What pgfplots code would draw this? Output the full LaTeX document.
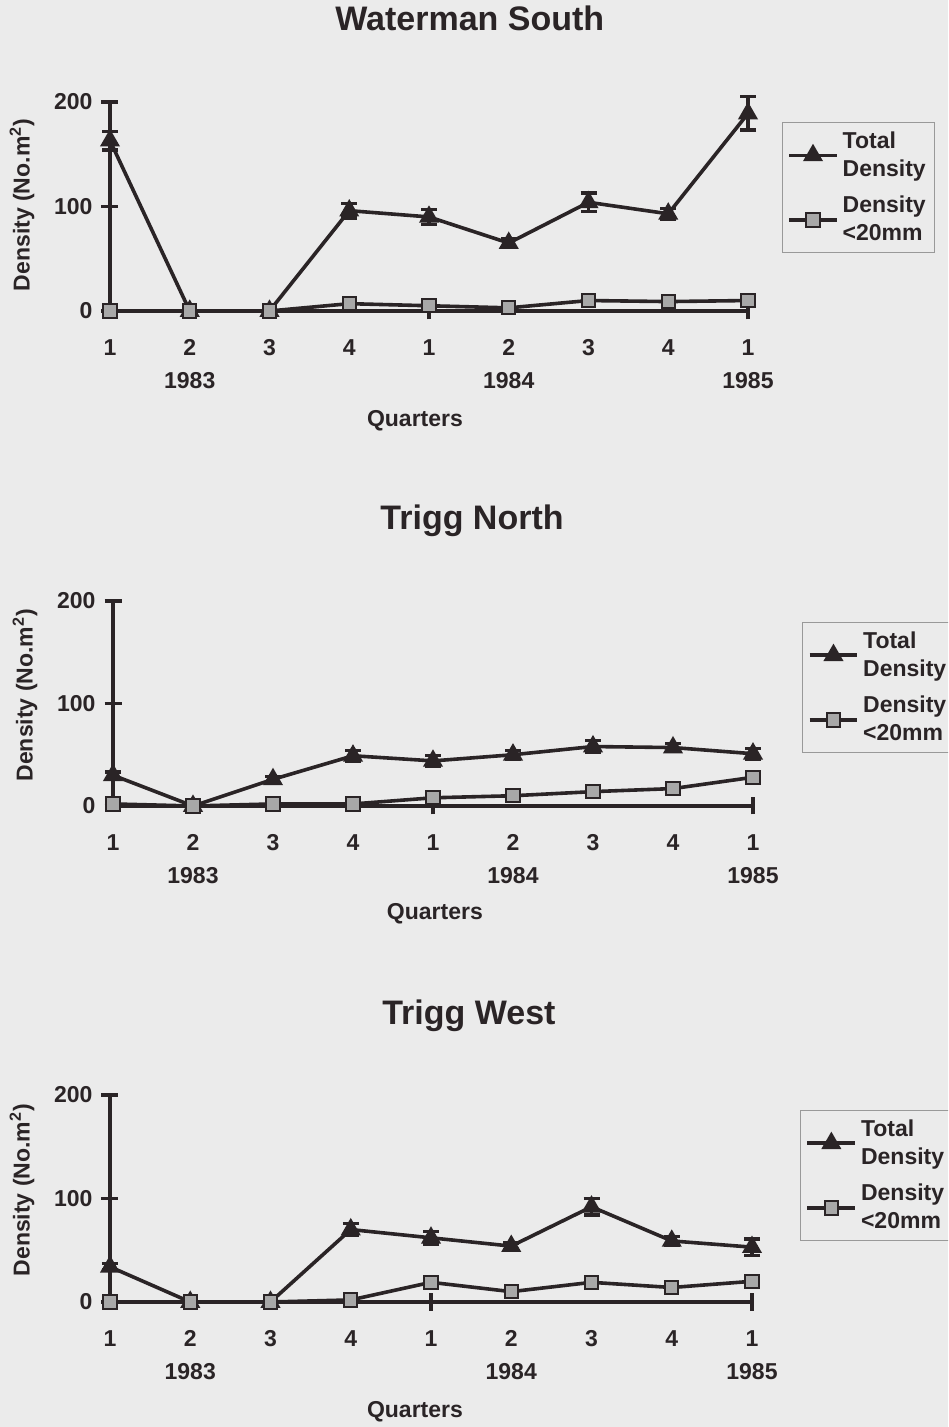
\documentclass[border=0pt]{standalone}
\usepackage{pgfplots}
\pgfplotsset{compat=1.18}
\usepackage{fontspec}
\setmainfont{Liberation Sans}
\definecolor{ink}{HTML}{2A2426}
\definecolor{bg}{HTML}{EBEBEB}
\definecolor{sq}{HTML}{A8A8A8}
\pgfplotsset{
 panel/.style={
  scale only axis, anchor=south west, clip=false,
  xmin=0,xmax=8,ymin=0,ymax=200,
  axis lines*=left,
  axis line style={line width=1.7pt,draw=ink},
  every tick/.style={line width=1.7pt,draw=ink},
  tick align=center, major tick length=8.5pt,
  ytick={0,100,200},
  xtick={0,...,8},
  xticklabels={1,{2\\1983},3,4,1,{2\\1984},3,4,{1\\1985}},
  major x tick style={draw=none},
  extra x ticks={4,8}, extra x tick labels={},
  extra x tick style={major x tick style={draw=ink}},
  /pgf/number format/assume math mode=true,
  tick label style={font=\bfseries\fontsize{11.5}{16.5}\selectfont, text=ink},
  xticklabel style={align=center, yshift=-6.5pt},
  yticklabel style={xshift=-1pt},
  label style={font=\bfseries\fontsize{11.5}{14}\selectfont, text=ink},
  ylabel={Density (No.m\textsuperscript{2})},
  xlabel={Quarters},
  every axis title shift=0pt,
  title style={font=\bfseries\fontsize{17}{20}\selectfont, text=ink, anchor=center},
  legend style={draw=gray!80, line width=0.5pt, fill=none, inner sep=2.5pt,
    font=\bfseries\fontsize{11.5}{14}\selectfont, text=ink,
    cells={anchor=west, align=left}, row sep=4.5pt, anchor=north west},
  legend image code/.code={\draw[mark repeat=2,mark phase=2,##1] plot coordinates {(0cm,0cm)(0.42cm,0cm)(0.84cm,0cm)};},
 },
 tot/.style={ink, line width=1.8pt, mark=triangle*, mark size=4.8pt,
   mark options={solid, fill=ink, line width=1pt},
   error bars/.cd, y dir=both, y explicit,
   error bar style={line width=1.7pt, ink},
   error mark options={rotate=90, mark size=4pt, line width=1.7pt, ink}},
 den/.style={ink, line width=1.8pt, mark=square*, mark size=3.3pt,
   mark options={solid, fill=sq, draw=ink, line width=1pt}},
}
\begin{document}
\begin{tikzpicture}
\useasboundingbox (0,0) rectangle (474pt,713.5pt);
\fill[bg] (0,0) rectangle (474pt,713.5pt);
\clip (0,0) rectangle (474pt,713.5pt);

% Waterman South
\begin{axis}[panel, at={(55pt,558pt)}, width=319pt, height=104.5pt,
  title={Waterman South}, title style={at={(0.564,1.402)}},
  xlabel style={at={(axis description cs:0.478,-0.526)}, anchor=center},
  ylabel style={at={(axis description cs:-0.138,0.507)}, anchor=center},
  legend style={at={(1.053,0.904)}}]
\addplot[tot] table[row sep=\\, x=x, y=y, y error=e] {
x y e\\ 0 163 9\\ 1 0 0\\ 2 0 0\\ 3 96 7\\ 4 90 7\\ 5 65 4\\ 6 104 9\\ 7 93 5\\ 8 189 16\\};
\addlegendentry{Total\\Density}
\addplot[den] table[row sep=\\, x=x, y=y] {
x y\\ 0 0\\ 1 0\\ 2 0\\ 3 7\\ 4 5\\ 5 3\\ 6 10\\ 7 9\\ 8 10\\};
\addlegendentry{Density\\<20mm}
\end{axis}

% Trigg North
\begin{axis}[panel, at={(56.5pt,310.5pt)}, width=320pt, height=102.5pt,
  title={Trigg North}, title style={at={(0.561,1.39)}},
  xlabel style={at={(axis description cs:0.503,-0.527)}, anchor=center},
  ylabel style={at={(axis description cs:-0.1375,0.54)}, anchor=center},
  legend style={at={(1.077,0.898)}}]
\addplot[tot] table[row sep=\\, x=x, y=y, y error=e] {
x y e\\ 0 30 3\\ 1 0 0\\ 2 26 3\\ 3 49 5\\ 4 44 5\\ 5 50 4\\ 6 58 6\\ 7 57 4\\ 8 51 5\\};
\addlegendentry{Total\\Density}
\addplot[den] table[row sep=\\, x=x, y=y] {
x y\\ 0 2\\ 1 0\\ 2 2\\ 3 2\\ 4 8\\ 5 10\\ 6 14\\ 7 17\\ 8 28\\};
\addlegendentry{Density\\<20mm}
\end{axis}

% Trigg West
\begin{axis}[panel, at={(55pt,62.5pt)}, width=321pt, height=103.5pt,
  title={Trigg West}, title style={at={(0.559,1.382)}},
  xlabel style={at={(axis description cs:0.475,-0.531)}, anchor=center},
  ylabel style={at={(axis description cs:-0.137,0.54)}, anchor=center},
  legend style={at={(1.075,0.928)}}]
\addplot[tot] table[row sep=\\, x=x, y=y, y error=e] {
x y e\\ 0 34 3\\ 1 0 0\\ 2 0 0\\ 3 70 6\\ 4 62 6\\ 5 54 3\\ 6 92 8\\ 7 59 4\\ 8 53 8\\};
\addlegendentry{Total\\Density}
\addplot[den] table[row sep=\\, x=x, y=y] {
x y\\ 0 0\\ 1 0\\ 2 0\\ 3 2\\ 4 19\\ 5 10\\ 6 19\\ 7 14\\ 8 20\\};
\addlegendentry{Density\\<20mm}
\end{axis}
\end{tikzpicture}
\end{document}
